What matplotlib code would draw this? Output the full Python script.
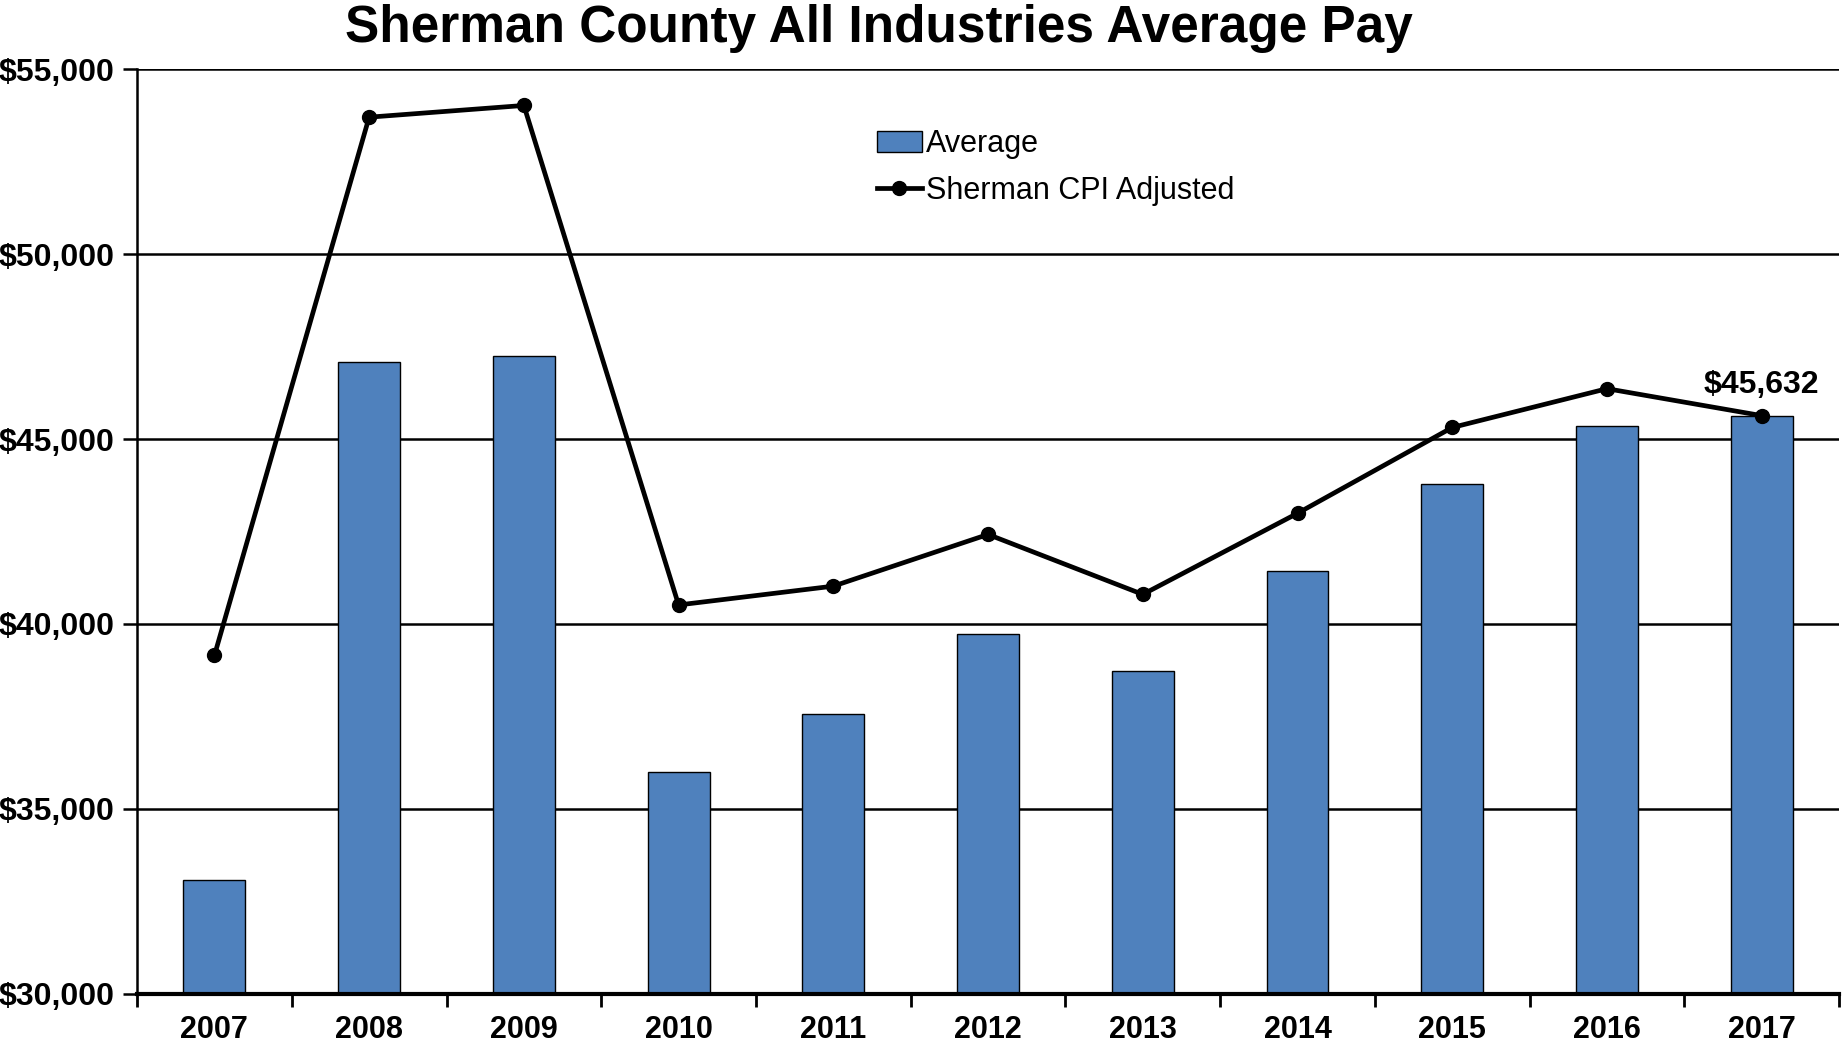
import matplotlib
matplotlib.use("Agg")
import matplotlib.pyplot as plt
import numpy as np
from matplotlib.ticker import FuncFormatter

years = ["2007", "2008", "2009", "2010", "2011", "2012", "2013", "2014", "2015", "2016", "2017"]
average = [33081, 47090, 47249, 36004, 37560, 39720, 38736, 41436, 43787, 45343, 45629]
cpi_adjusted = [39149, 53698, 54015, 40515, 41023, 42421, 40800, 42992, 45311, 46360, 45632]
y_ticks = [30000, 35000, 40000, 45000, 50000, 55000]
end_label = "$45,632"

plt.rcParams['font.family'] = ['Liberation Sans', 'DejaVu Sans']

fig = plt.figure(figsize=(18.42, 10.44), dpi=100)
ax = fig.add_axes([0.0744, 0.0479, 0.924, 0.886])

x = np.arange(len(years))
ax.set_axisbelow(True)
for t in y_ticks[1:]:
    ax.axhline(t, color='black', lw=1.8, zorder=1)

bars = ax.bar(x, average, width=0.40, bottom=0, color='#4F81BD', edgecolor='black',
              linewidth=1.0, zorder=2, label='Average')
line, = ax.plot(x, cpi_adjusted, color='black', lw=3.4, marker='o', markersize=10,
                zorder=3, label='Sherman CPI Adjusted')

ax.annotate(end_label, (x[-1], cpi_adjusted[-1]), xytext=(0, 11),
            textcoords='offset points', ha='center', va='bottom',
            fontsize=23, fontweight='bold')

ax.set_ylim(30000, 55000)
ax.set_xlim(-0.5, len(years) - 0.5)
ax.set_yticks(y_ticks)
ax.yaxis.set_major_formatter(FuncFormatter(lambda v, p: f"${v:,.0f}"))
ax.set_xticks(x)
ax.set_xticklabels(years)
ax.set_xticks(np.arange(-0.5, len(years)), minor=True)
ax.tick_params(axis='x', which='major', length=0, pad=15, labelsize=22)
ax.tick_params(axis='x', which='minor', length=9, width=2, direction='out')
ax.tick_params(axis='y', length=10, width=1.8, direction='out', pad=6, labelsize=23)
for lab in ax.get_xticklabels() + ax.get_yticklabels():
    lab.set_fontweight('bold')

for s in ['top', 'right']:
    ax.spines[s].set_visible(False)
ax.spines['left'].set_linewidth(1.8)
ax.spines['bottom'].set_linewidth(3)

fig.text(0.477, 0.973, "Sherman County All Industries Average Pay", ha='center', va='center',
         fontsize=37, fontweight='bold')

leg = fig.legend([bars, line], ['Average', 'Sherman CPI Adjusted'],
                 loc='upper left', bbox_to_anchor=(0.468, 0.891), frameon=False,
                 fontsize=22, handlelength=1.45, handletextpad=0.15, borderpad=0,
                 labelspacing=0.55)

fig.savefig("out.png", dpi=100)
